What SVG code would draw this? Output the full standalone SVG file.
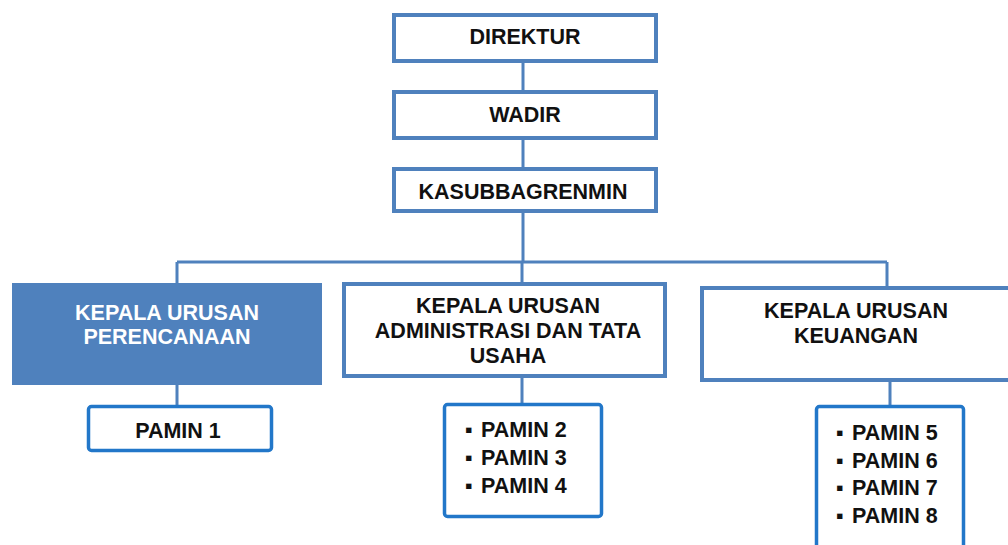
<svg xmlns="http://www.w3.org/2000/svg" width="1008" height="545" viewBox="0 0 1008 545">
<style>
.box{fill:#fff;stroke:#4F81BD;stroke-width:4}
.sub{fill:#fff;stroke:#2277C9;stroke-width:3.5}
.t{font-family:"Liberation Sans",Arial,sans-serif;font-weight:bold;font-size:21.5px;fill:#111}
.c{text-anchor:middle}
.w{fill:#fff}
.ln{stroke:#4F81BD;stroke-width:3;fill:none}
</style>
<rect width="1008" height="545" fill="#fff"/>
<g id="connectors">
<path class="ln" d="M523 61V92M523 138V168M523 211V262M177 262H887M177 262V283M522 262V282M887 262V286M177 385V405M522 378V403M890 382V405"/>
</g>
<g id="direktur"><rect class="box" x="394" y="15" width="262" height="46"/><text class="t c" x="525" y="44">DIREKTUR</text></g>
<g id="wadir"><rect class="box" x="394" y="92" width="262" height="46"/><text class="t c" x="525" y="122">WADIR</text></g>
<g id="kasubbagrenmin"><rect class="box" x="394" y="169" width="262" height="42"/><text class="t c" x="523" y="199">KASUBBAGRENMIN</text></g>
<g id="kaur-perencanaan"><rect x="12" y="283" width="310" height="102" fill="#4F81BD"/><text class="t c w" x="167" y="320">KEPALA URUSAN</text><text class="t c w" x="167" y="344">PERENCANAAN</text></g>
<g id="kaur-admin"><rect class="box" x="344" y="284" width="321" height="92"/><text class="t c" x="508" y="313">KEPALA URUSAN</text><text class="t c" x="508" y="338">ADMINISTRASI DAN TATA</text><text class="t c" x="508" y="363">USAHA</text></g>
<g id="kaur-keuangan"><rect class="box" x="702" y="288" width="320" height="92"/><text class="t c" x="856" y="318">KEPALA URUSAN</text><text class="t c" x="856" y="343">KEUANGAN</text></g>
<g id="pamin1"><rect class="sub" x="88.5" y="406.5" width="183" height="44" rx="3"/><text class="t c" x="178" y="438">PAMIN 1</text></g>
<g id="pamin2-4"><rect class="sub" x="444.5" y="404.5" width="157" height="112" rx="3"/>
<text class="t" y="437"><tspan x="465">▪</tspan><tspan x="481">PAMIN 2</tspan></text>
<text class="t" y="465"><tspan x="465">▪</tspan><tspan x="481">PAMIN 3</tspan></text>
<text class="t" y="493"><tspan x="465">▪</tspan><tspan x="481">PAMIN 4</tspan></text></g>
<g id="pamin5-8"><rect class="sub" x="816.5" y="406.5" width="147" height="160" rx="3"/>
<text class="t" y="440"><tspan x="836">▪</tspan><tspan x="852">PAMIN 5</tspan></text>
<text class="t" y="468"><tspan x="836">▪</tspan><tspan x="852">PAMIN 6</tspan></text>
<text class="t" y="495"><tspan x="836">▪</tspan><tspan x="852">PAMIN 7</tspan></text>
<text class="t" y="523"><tspan x="836">▪</tspan><tspan x="852">PAMIN 8</tspan></text></g>
</svg>
